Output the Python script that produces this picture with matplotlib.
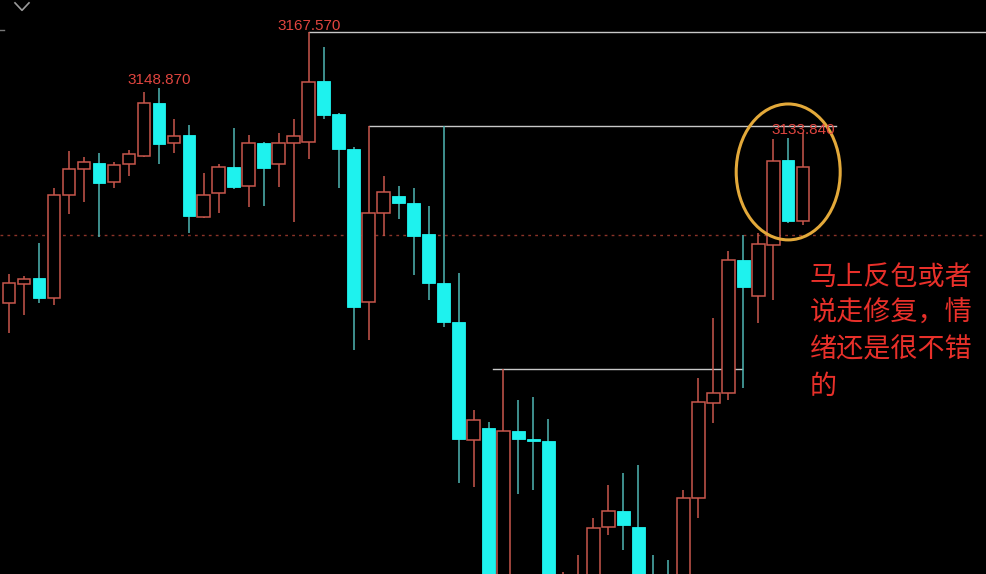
import matplotlib
matplotlib.use("Agg")
import matplotlib.pyplot as plt
from matplotlib.patches import Ellipse
import numpy as np

plt.rcParams['font.family'] = ['Noto Sans CJK SC', 'DejaVu Sans']

# OHLC values
opens = [3077.2, 3083.6, 3085.6, 3078.9, 3113.2, 3121.9, 3123.9, 3117.6, 3123.6, 3126.2,
         3143.9, 3130.6, 3133.2, 3105.9, 3113.9, 3122.6, 3116.2, 3130.6, 3123.6, 3130.6,
         3130.9, 3151.2, 3140.2, 3128.6, 3077.6, 3107.2, 3112.9, 3110.6, 3100.2, 3083.9,
         3070.9, 3031.6, 3035.6, 2975.0, 3034.6, 3031.9, 3031.2, 2980.0, 2972.0, 2980.0,
         3002.6, 3007.9, 3002.6, 2985.0, 2984.0, 2980.0, 3012.2, 3043.9, 3047.2, 3091.6,
         3079.6, 3096.6, 3124.9, 3104.6]
highs = [3086.9, 3086.2, 3097.2, 3115.6, 3127.9, 3125.9, 3127.2, 3124.2, 3128.2, 3147.6,
         3148.87, 3138.6, 3136.6, 3120.6, 3123.6, 3135.6, 3133.2, 3131.0, 3133.9, 3138.6,
         3167.57, 3162.6, 3140.6, 3129.2, 3136.2, 3119.6, 3116.2, 3115.6, 3109.6, 3136.2,
         3087.2, 3041.6, 3037.6, 3055.2, 3044.9, 3045.9, 3038.6, 2987.5, 2993.2, 3005.6,
         3016.6, 3020.6, 3023.2, 2993.2, 2991.6, 3014.9, 3052.2, 3072.2, 3094.6, 3099.9,
         3100.6, 3132.0, 3132.2, 3133.84]
lows = [3067.2, 3073.2, 3077.2, 3076.6, 3106.9, 3110.9, 3099.2, 3115.6, 3119.6, 3125.9,
        3123.6, 3127.2, 3100.6, 3105.6, 3107.2, 3115.2, 3109.2, 3109.6, 3115.9, 3104.2,
        3125.2, 3138.6, 3115.6, 3061.6, 3064.9, 3099.6, 3105.2, 3086.6, 3078.2, 3069.2,
        3017.2, 3015.9, 2970.0, 2965.0, 3013.6, 3014.9, 2975.0, 2970.0, 2965.0, 2975.0,
        3000.0, 2994.9, 2972.0, 2972.0, 2970.0, 2975.0, 3005.6, 3037.2, 3044.9, 3048.9,
        3070.6, 3078.2, 3103.9, 3103.2]
closes = [3083.9, 3085.2, 3078.9, 3113.2, 3121.9, 3124.2, 3117.2, 3123.2, 3126.9, 3143.9,
          3130.2, 3132.9, 3106.2, 3113.2, 3122.6, 3115.9, 3130.6, 3122.2, 3130.6, 3132.9,
          3150.9, 3139.9, 3128.6, 3075.9, 3107.2, 3114.2, 3110.6, 3099.6, 3083.9, 3070.9,
          3031.9, 3038.2, 2978.2, 3034.6, 3031.9, 3031.2, 2980.0, 2983.0, 2985.0, 3002.2,
          3007.9, 3003.2, 2978.0, 2978.0, 2976.0, 3012.2, 3044.2, 3047.2, 3091.6, 3082.6,
          3096.9, 3124.6, 3104.6, 3122.6]

# annotation values
high_labels = ["3167.570", "3148.870", "3133.840"]
label_idx = [20, 10, 52]
label_x = [20.0, 10.0, 53.0]
label_gap = [0.7, 1.3, 1.4]
ref_level = 3099.9
hlines_y = [3167.57, 3136.2, 3055.2]
hlines_x0 = [20, 24, 32.3]
hlines_x1 = [66, 55.2, 48.9]
note = "马上反包或者\n说走修复，情\n绪还是很不错\n的"

UP = "#c8574c"
DOWN = "#1ef2ee"
DOWN_WICK = "#4fb6b4"

fig = plt.figure(figsize=(9.86, 5.74), dpi=100, facecolor="black")
ax = fig.add_axes([0, 0, 1, 1])
ax.set_facecolor("black")

x = np.arange(len(opens))
o = np.array(opens); c = np.array(closes); h = np.array(highs); l = np.array(lows)
up = c >= o
top = np.maximum(o, c); bot = np.minimum(o, c)
w = 0.84

# reference dotted line
ax.axhline(ref_level, color="#8a3328", lw=1.0, ls=(0, (2, 3)), zorder=1)

# wicks
ax.vlines(x[up], top[up], h[up], color=UP, lw=1.1, zorder=2)
ax.vlines(x[up], l[up], bot[up], color=UP, lw=1.1, zorder=2)
ax.vlines(x[~up], l[~up], h[~up], color=DOWN_WICK, lw=1.1, zorder=2)

# bodies
hgt = np.maximum(top - bot, 0.35)
ax.bar(x[up], hgt[up], bottom=bot[up], width=w, facecolor="black",
       edgecolor=UP, linewidth=1.1, zorder=3)
ax.bar(x[~up], hgt[~up], bottom=bot[~up], width=w, facecolor=DOWN,
       edgecolor=DOWN, linewidth=0.6, zorder=3)

# horizontal guide lines
for yy, a, b in zip(hlines_y, hlines_x0, hlines_x1):
    ax.plot([a, b], [yy, yy], color="#c8c8c8", lw=1.0, zorder=1)

# high labels
for t, i, xx, g in zip(high_labels, label_idx, label_x, label_gap):
    ax.text(xx, highs[i] + g, t, color="#e0453f", fontsize=11,
            family="Liberation Sans", ha="center", va="baseline", zorder=5)

# ellipse
ax.add_patch(Ellipse((52.0, 3120.9), 6.94, 45.3, fill=False,
                     edgecolor="#e3a93a", lw=2.2, zorder=4))

# chinese note
ax.text(53.45, 3090.3, note, color="#e8302a", fontsize=19.5,
        family=["Noto Sans CJK SC", "DejaVu Sans"], ha="left", va="top",
        linespacing=1.45, zorder=5)

# chevron top-left and small mark on the left edge
ax.plot([0.0152, 0.0223, 0.0294], [0.995, 0.982, 0.995], transform=ax.transAxes,
        color="#9a9a9a", lw=1.2)
ax.plot([0.0, 0.004], [0.948, 0.948], transform=ax.transAxes,
        color="#777777", lw=1.0)

ax.set_xlim(-0.6, 65.2)
ax.set_ylim(2986.9, 3178.2)
ax.axis("off")

fig.savefig("out.png", dpi=100, facecolor="black")
